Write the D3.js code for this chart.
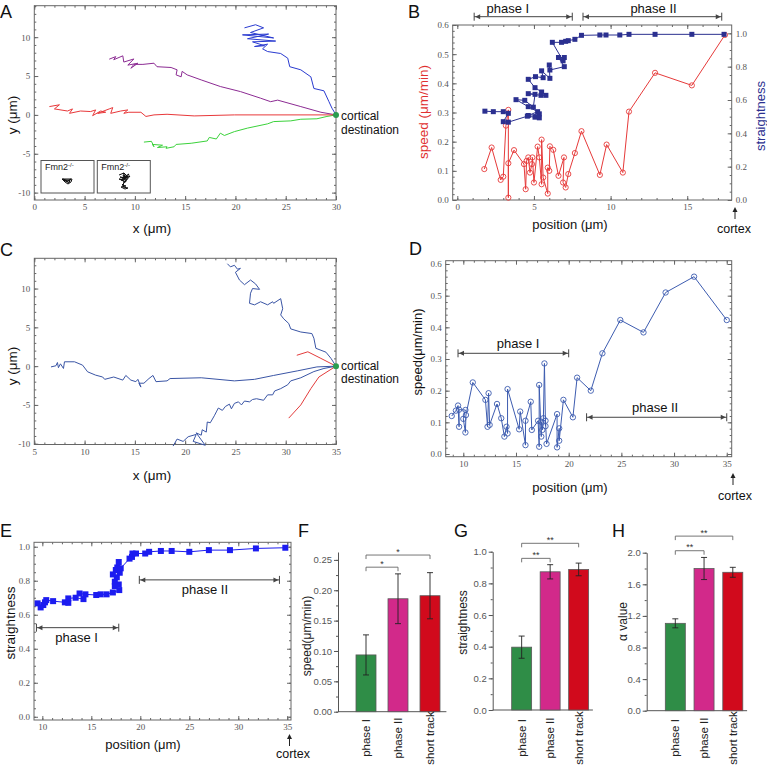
<!DOCTYPE html>
<html>
<head>
<meta charset="utf-8">
<title>Migration tracks</title>
<script src="https://d3js.org/d3.v7.min.js"></script>
<style>
  body { margin: 0; background: #fff; }
  svg { display: block; font-family: "Liberation Sans", Arial, sans-serif; }
  .frame { fill: none; stroke: #666; stroke-width: 1; }
  .ticks line { stroke: #666; }
  .ticks text { font-family: "Liberation Serif", "DejaVu Serif", serif; font-size: 9px; fill: #555; }
  .bar-axis line, .bar-axis path { stroke: #555; }
  .bar-axis text { font-size: 9.5px; fill: #555; }
  .track { fill: none; stroke-width: 1; }
</style>
</head>
<body>
<svg id="fig" width="767" height="776"></svg>
<script>
// ---------- data ----------
// panel A tracks (x, y in µm)
var trackA_red = [[1.5,1.07],[2.5,1.3],[2.0,0.77],[3.3,0.5],[3.8,0.77],[3.5,0.2],[4.6,0.5],[5.6,0.43],[6.1,0.64],[5.8,-0.1],[6.6,0.5],[7.1,0.34],[6.3,0.2],[7.45,0.77],[7.8,0.94],[7.6,0.2],[8.6,0.5],[9.3,0.64],[8.9,0.2],[9.4,0.34],[10.6,0.34],[11.1,-0.2],[11.9,0],[13.2,0.08],[15.9,-0.13],[19.9,0],[30,0]];
var trackA_purple = [[7.45,7.17],[8.1,7.5],[7.9,7.1],[8.8,7.6],[8.9,6.8],[9.9,7.2],[9.3,6.4],[10.3,6.65],[9.6,6.0],[9.9,6.5],[10.8,6.5],[11.9,6.65],[12.2,6.2],[13.6,6.1],[14.2,5.8],[14.1,5.15],[14.6,4.9],[14.7,5.6],[15.2,5.15],[16.6,4.5],[18.5,3.65],[20.5,3.0],[22.5,2.15],[23.5,1.7],[24.2,1.9],[26.5,1.07],[28.5,0.34],[30,0]];
var trackA_blue = [[20.9,11.2],[22.0,11.6],[22.8,11.2],[21.5,10.6],[23.8,9.9],[20.7,10.3],[23.3,10.4],[21.2,9.8],[24.0,9.5],[21.7,9.4],[22.9,8.9],[21.9,8.8],[23.2,9.1],[22.7,8.5],[23.2,8.15],[24.5,7.9],[25.2,7.3],[25.4,6.2],[26.5,5.8],[27.5,4.9],[27.8,3.4],[28.8,3.1],[29.3,1.7],[29.6,0.86],[30,0]];
var trackA_green = [[10.9,-3.5],[11.65,-3.4],[11.9,-4.1],[11.75,-3.8],[12.75,-3.9],[12.25,-4.2],[13.2,-4.1],[13.1,-4.3],[13.9,-4.1],[14.1,-3.8],[15.6,-3.65],[17.2,-3.35],[17.4,-2.9],[18.1,-3.1],[18.5,-2.35],[18.9,-2.65],[19.9,-2.15],[21.2,-1.7],[23.2,-1.15],[23.8,-0.86],[25.5,-0.77],[26.5,-0.56],[28.1,-0.5],[29.1,-0.2],[30,0]];
// inset tracks (Fmn2-/-), µm around start
var insetTrack1 = [[-5,2],[-2,-1],[1,-3],[4,-1],[5,2],[-5,2],[-1,0],[2,-2],[3,1],[-3,1],[0,-1],[4,2],[1,0],[-4,2]];
var insetTrack2 = [[-5,6],[0,8],[3,5],[-2,3],[5,7],[1,2],[-4,4],[4,3],[-1,6],[2,-1],[-3,1],[1,4],[6,5],[0,-2],[-2,-4],[2,-5],[-3,-6],[1,-8],[4,-7],[-1,-6],[0,0],[-5,2],[3,1],[-1,8],[2,6]];

// panel B: position (µm) vs speed and straightness
var speedB = [[1.76,0.106],[2.24,0.18],[2.83,0.069],[3.0,0.08],[3.17,0.255],[3.33,0.309],[3.33,0.008],[3.33,0.126],[3.7,0.171],[4.35,0.123],[4.46,0.037],[4.52,0.134],[4.63,0.146],[4.74,0.094],[4.87,0.123],[4.9,0.146],[5.0,0.06],[5.24,0.183],[5.35,0.146],[5.5,0.054],[5.5,0.207],[5.6,0.077],[5.9,0.022],[5.9,0.111],[6.0,0.1],[6.04,0.184],[6.26,0.172],[6.6,0.083],[6.96,0.146],[6.9,0.06],[7.07,0.043],[7.24,0.089],[7.67,0.161],[8.1,0.236],[9.3,0.086],[9.74,0.19],[10.8,0.094],[11.2,0.303],[12.9,0.436],[15.3,0.393],[17.46,0.566]];
var straightB = [[1.8,0.533],[2.35,0.53],[3.0,0.53],[3.33,0.52],[3.0,0.47],[3.33,0.467],[4.57,0.503],[5.35,0.493],[5.07,0.497],[5.35,0.517],[4.63,0.507],[5.24,0.53],[4.63,0.56],[3.83,0.602],[4.4,0.598],[4.96,0.557],[5.07,0.634],[4.63,0.638],[5.46,0.628],[5.78,0.628],[5.5,0.648],[5.07,0.674],[4.63,0.724],[5.1,0.74],[5.6,0.734],[5.5,0.775],[6.04,0.73],[6.0,0.81],[6.04,0.78],[6.98,0.8],[6.6,0.855],[6.98,0.855],[6.9,0.835],[6.2,0.946],[6.8,0.946],[7.07,0.952],[7.24,0.956],[7.67,0.964],[8.1,0.988],[9.3,0.99],[9.7,0.99],[10.6,0.99],[11.2,0.994],[12.9,0.994],[15.3,0.994],[17.4,0.994]];
var phasesB = [["phase I",1.1,7.5,3.3],["phase II",8.2,17.25,12.8]];

// panel C tracks
var trackC_top = [[24.2,13.2],[24.5,12.8],[24.9,13.0],[25.2,12.5],[25.5,12.6],[25.0,12.1],[25.4,11.1],[25.9,10.5],[26.5,11.1],[27.0,10.6],[27.4,9.9],[26.7,10.0],[26.5,9.4],[26.4,8.1],[26.9,7.9],[27.5,8.3],[28.2,7.9],[28.7,8.3],[28.8,8.1],[29.5,8.7],[29.7,7.4],[29.5,6.6],[29.8,6.1],[30.3,5.5],[30.5,4.8],[31.5,4.4],[32.6,4.2],[32.8,3.6],[33.0,2.3],[34.0,1.8],[34.5,1.0],[35,0]];
var trackC_mid = [[6.66,-0.1],[7.15,0.05],[7.3,0.47],[7.4,-0.2],[7.6,0.3],[7.9,-0.3],[8.0,0.56],[9.0,0.56],[9.8,0.13],[10.3,-0.73],[11.1,-1.16],[11.8,-1.4],[12.0,-1.7],[12.9,-1.4],[13.8,-1.8],[14.1,-1.2],[14.6,-1.8],[15.1,-2.0],[15.3,-1.7],[15.6,-2.7],[15.4,-2.2],[15.9,-2.2],[16.4,-1.6],[16.8,-1.2],[17.1,-2.0],[18.2,-1.9],[18.5,-1.6],[21.6,-1.5],[24.9,-1.9],[26.9,-1.7],[28.8,-1.2],[31.2,-0.6],[33.1,-0.1],[35,0]];
var trackC_low = [[18.8,-10.3],[19.2,-9.4],[19.8,-9.7],[20.3,-9.1],[21.1,-8.8],[20.8,-9.7],[22.0,-10.2],[21.6,-9.5],[21.1,-8.6],[21.6,-8.9],[21.7,-8.2],[22.1,-8.5],[22.2,-7.2],[22.5,-7.3],[22.9,-6.4],[23.1,-5.9],[23.3,-5.4],[23.7,-5.7],[24.0,-5.2],[24.4,-4.9],[24.6,-5.5],[24.9,-4.8],[25.3,-4.6],[25.6,-5.0],[25.9,-4.5],[26.4,-4.6],[26.7,-4.3],[27.1,-4.2],[27.8,-4.4],[28.2,-3.7],[28.7,-3.7],[28.9,-3.2],[29.5,-2.9],[30.2,-2.4],[30.5,-1.9],[31.5,-1.5],[32.8,-0.7],[33.8,-0.3],[35,0]];
var trackC_red1 = [[31.1,1.4],[32.2,1.85],[33.5,1.0],[35,0]];
var trackC_red2 = [[30.3,-6.7],[31.5,-5.0],[32.5,-2.9],[33.3,-1.4],[35,0]];

// panel D: speed vs position
var speedD = [[8.9,0.12],[9.3,0.137],[9.5,0.153],[9.6,0.086],[9.6,0.14],[10.2,0.139],[10.0,0.111],[10.2,0.068],[10.25,0.123],[10.9,0.226],[12.1,0.171],[12.3,0.086],[12.4,0.192],[12.5,0.092],[13.2,0.158],[13.6,0.113],[13.9,0.055],[14.1,0.086],[14.2,0.065],[14.2,0.205],[15.3,0.078],[15.4,0.134],[15.9,0.028],[15.9,0.105],[16.4,0.165],[16.5,0.076],[17.1,0.105],[17.2,0.023],[17.2,0.218],[17.4,0.055],[17.4,0.102],[17.5,0.076],[17.6,0.113],[17.7,0.286],[17.8,0.088],[17.8,0.105],[17.9,0.032],[18.9,0.126],[18.9,0.021],[19.1,0.081],[19.1,0.042],[19.5,0.171],[20.4,0.116],[20.8,0.241],[22.1,0.2],[23.2,0.318],[24.9,0.423],[27.1,0.384],[29.2,0.51],[31.9,0.56],[35,0.423]];
var phasesD = [["phase I",9.5,20,15.2,0.318],["phase II",21.7,35,28.2,0.116]];

// panel E: straightness vs position
var straightE = [[9.52,0.667],[9.83,0.643],[10.1,0.657],[10.27,0.673],[10.4,0.686],[11.1,0.68],[12.3,0.673],[12.65,0.67],[12.65,0.696],[13.4,0.7],[14.2,0.692],[13.8,0.725],[14.4,0.72],[15.5,0.716],[15.95,0.72],[16.56,0.72],[17.2,0.731],[17.85,0.745],[17.4,0.769],[17.8,0.778],[17.4,0.794],[17.6,0.82],[17.2,0.837],[17.5,0.863],[17.9,0.847],[17.65,0.878],[17.8,0.91],[18.0,0.873],[18.9,0.93],[19.15,0.94],[19.2,0.96],[19.56,0.96],[20.5,0.96],[20.9,0.97],[22.1,0.975],[23.2,0.975],[25.0,0.97],[27.0,0.98],[29.15,0.98],[31.8,0.99],[34.8,0.994]];
var phasesE = [["phase I",9.4,17.8,13.5,0.524],["phase II",19.9,34.2,26.6,0.805]];

// panels F-H: bar charts
var groups = ["phase I", "phase II", "short track"];
var groupColors = ["#2f8d47", "#d2298a", "#d10a1c"];
var speedMean = [0.0935, 0.186, 0.191];
var speedErr = [0.033, 0.041, 0.038];
var straightMean = [0.397, 0.873, 0.888];
var straightErr = [0.07, 0.045, 0.04];
var alphaMean = [1.106, 1.80, 1.752];
var alphaErr = [0.057, 0.14, 0.063];
var sigF = [["phase I","phase II",0.238,"*"],["phase I","short track",0.258,"*"]];
var sigG = [["phase I","phase II",0.958,"**"],["phase I","short track",1.053,"**"]];
var sigH = [["phase I","phase II",2.025,"**"],["phase I","short track",2.21,"**"]];

// ---------- helpers ----------
var svg = d3.select("#fig");
var num = function(d) { return String(d); };
var dec1 = d3.format(".1f");

function frameTicks(g, x, y, o) {
  var x0 = x.range()[0], x1 = x.range()[1], yb = y.range()[0], yt = y.range()[1];
  var yr = o.yRight || y;
  var sides = [
    [d3.axisBottom(x), "translate(0," + yb + ")", o.xMajor, o.xMinor, o.xFmt],
    [d3.axisTop(x), "translate(0," + yt + ")", o.xMajor, o.xMinor, null],
    [d3.axisLeft(y), "translate(" + x0 + ",0)", o.yMajor, o.yMinor, o.yFmt],
    [d3.axisRight(yr), "translate(" + x1 + ",0)", o.rMajor || o.yMajor, o.rMinor || o.yMinor, o.rFmt || null]
  ];
  sides.forEach(function(s) {
    g.append("g").attr("class", "ticks").attr("transform", s[1])
      .call(s[0].tickValues(s[3]).tickSizeInner(-2).tickSizeOuter(0).tickFormat(""));
    g.append("g").attr("class", "ticks").attr("transform", s[1])
      .call(s[0].tickValues(s[2]).tickSizeInner(-4).tickSizeOuter(0).tickPadding(4).tickFormat(s[4] || ""));
  });
  g.selectAll(".domain").remove();
  g.append("rect").attr("class", "frame")
    .attr("x", x0).attr("y", yt).attr("width", x1 - x0).attr("height", yb - yt);
}

function text(g, s, x, y, size, anchor, fill) {
  return g.append("text").attr("x", x).attr("y", y)
    .attr("font-size", size).attr("text-anchor", anchor || "start")
    .attr("fill", fill || "#111").text(s);
}

function vtext(g, s, cx, cy, size, fill) {
  return g.append("text").attr("transform", "translate(" + cx + "," + cy + ") rotate(-90)")
    .attr("dy", "0.35em").attr("font-size", size).attr("text-anchor", "middle")
    .attr("fill", fill || "#111").text(s);
}

function span(g, xa, xb, y) {
  var s = g.append("g").attr("stroke", "#444").attr("fill", "#444");
  s.append("line").attr("x1", xa).attr("x2", xb).attr("y1", y).attr("y2", y);
  [xa, xb].forEach(function(xe, i) {
    var dir = i ? -1 : 1;
    s.append("line").attr("x1", xe).attr("x2", xe).attr("y1", y - 4).attr("y2", y + 4);
    s.append("path").attr("stroke", "none")
      .attr("d", "M" + (xe + dir) + "," + y + "L" + (xe + dir * 6) + "," + (y - 2.5) + "L" + (xe + dir * 6) + "," + (y + 2.5) + "Z");
  });
}

function upArrow(g, x, yTop, yBot) {
  g.append("line").attr("x1", x).attr("x2", x).attr("y1", yTop + 2).attr("y2", yBot).attr("stroke", "#222");
  g.append("path").attr("fill", "#222")
    .attr("d", "M" + x + "," + yTop + "L" + (x - 2.5) + "," + (yTop + 5) + "L" + (x + 2.5) + "," + (yTop + 5) + "Z");
}

function squares(g, data, x, y, size, color) {
  g.selectAll(null).data(data).enter().append("rect")
    .attr("x", function(d) { return x(d[0]) - size / 2; })
    .attr("y", function(d) { return y(d[1]) - size / 2; })
    .attr("width", size).attr("height", size).attr("fill", color);
}

function circles(g, data, x, y, r, color) {
  g.selectAll(null).data(data).enter().append("circle")
    .attr("cx", function(d) { return x(d[0]); })
    .attr("cy", function(d) { return y(d[1]); })
    .attr("r", r).attr("fill", "none").attr("stroke", color).attr("stroke-width", 0.9);
}

function path(g, data, x, y, color, w) {
  g.append("path").attr("class", "track").attr("stroke", color).attr("stroke-width", w || 1)
    .attr("d", d3.line().x(function(d) { return x(d[0]); }).y(function(d) { return y(d[1]); })(data));
}

// ---------- panel A ----------
var gA = svg.append("g");
var xA = d3.scaleLinear().domain([0, 30]).range([34.3, 336]);
var yA = d3.scaleLinear().domain([-10.95, 14.05]).range([200, 5.7]);
frameTicks(gA, xA, yA, { xMajor: d3.range(0, 31, 5), xMinor: d3.range(0, 31, 1), xFmt: num,
  yMajor: [-10, -5, 0, 5, 10], yMinor: d3.range(-10, 15, 1), yFmt: num });
path(gA, trackA_green, xA, yA, "#3bd23b");
path(gA, trackA_purple, xA, yA, "#8c2b93");
path(gA, trackA_blue, xA, yA, "#2a3bd0");
path(gA, trackA_red, xA, yA, "#e8383a");
gA.append("circle").attr("cx", xA(30)).attr("cy", yA(0)).attr("r", 3).attr("fill", "#2a9d50");
// insets
[[insetTrack1, 41, 67, 181, 6, 4, 1.2], [insetTrack2, 97.3, 124, 181, 7, 9, 1.6]].forEach(function(s) {
  var box = gA.append("g");
  box.append("rect").attr("x", s[1]).attr("y", 160.5).attr("width", 53).attr("height", 32.5)
    .attr("fill", "#fff").attr("stroke", "#555");
  var t = text(box, "Fmn2", s[1] + 4, 170, 9, "start", "#222");
  t.append("tspan").attr("font-size", 6).attr("dy", -3.5).text("-/-");
  var ix = d3.scaleLinear().domain([-s[4], s[4]]).range([s[2] - s[4], s[2] + s[4]]);
  var iy = d3.scaleLinear().domain([-s[5], s[5]]).range([s[3] + s[5], s[3] - s[5]]);
  path(box, s[0], ix, iy, "#111", s[6]);
});
text(svg, "A", 0, 17.5, 18);
vtext(svg, "y (\u03bcm)", 12, 115, 13.5);
text(svg, "x (\u03bcm)", 152, 233, 13.5, "middle");
text(svg, "cortical", 341, 120, 12);
text(svg, "destination", 341, 133.5, 12);

// ---------- panel B ----------
var gB = svg.append("g");
var xB = d3.scaleLinear().domain([-0.3, 17.9]).range([452.7, 731.7]);
var yBs = d3.scaleLinear().domain([0, 0.6]).range([200, 25]);
var yBr = d3.scaleLinear().domain([0, 1.05]).range([200, 25]);
frameTicks(gB, xB, yBs, { xMajor: [0, 5, 10, 15], xMinor: d3.range(0, 18, 1), xFmt: num,
  yMajor: d3.range(0, 0.61, 0.1), yMinor: d3.range(0, 0.61, 0.02), yFmt: dec1,
  yRight: yBr, rMajor: d3.range(0, 1.01, 0.2), rMinor: d3.range(0, 1.01, 0.05), rFmt: dec1 });
path(gB, speedB, xB, yBs, "#e63a3a");
circles(gB, speedB, xB, yBs, 2.6, "#e63a3a");
path(gB, straightB, xB, yBr, "#2b3090");
squares(gB, straightB, xB, yBr, 5, "#2b3090");
phasesB.forEach(function(p) {
  span(gB, xB(p[1]), xB(p[2]), 16.7);
  text(gB, p[0], xB(p[3]), 12.5, 13, "middle");
});
text(svg, "B", 408, 17.5, 18);
vtext(svg, "speed (\u03bcm/min)", 423, 112, 13.5, "#e03030");
vtext(svg, "straightness", 760, 116, 13, "#2b3090");
text(svg, "position (\u03bcm)", 570, 229, 13, "middle");
text(svg, "cortex", 734, 233, 12.5, "middle");
upArrow(svg, 735, 207, 219);

// ---------- panel C ----------
var gC = svg.append("g");
var xC = d3.scaleLinear().domain([5, 35]).range([34.3, 336]);
var yC = d3.scaleLinear().domain([-10.1, 13.9]).range([444.5, 258.3]);
frameTicks(gC, xC, yC, { xMajor: d3.range(5, 36, 5), xMinor: d3.range(5, 36, 1), xFmt: num,
  yMajor: [-10, -5, 0, 5, 10], yMinor: d3.range(-10, 14, 1), yFmt: num });
[trackC_top, trackC_mid, trackC_low].forEach(function(t) { path(gC, t, xC, yC, "#3a55a5"); });
path(gC, trackC_red1, xC, yC, "#e33b3b");
path(gC, trackC_red2, xC, yC, "#e33b3b");
gC.append("circle").attr("cx", xC(35)).attr("cy", yC(0)).attr("r", 3).attr("fill", "#2a9d50");
text(svg, "C", 0, 256, 18);
vtext(svg, "y (\u03bcm)", 12, 366, 13.5);
text(svg, "x (\u03bcm)", 152, 480, 13.5, "middle");
text(svg, "cortical", 341, 369.5, 12);
text(svg, "destination", 341, 383, 12);

// ---------- panel D ----------
var gD = svg.append("g");
var xD = d3.scaleLinear().domain([8.33, 35.47]).range([445.7, 731.7]);
var yD = d3.scaleLinear().domain([-0.0085, 0.6104]).range([456.7, 260.7]);
frameTicks(gD, xD, yD, { xMajor: d3.range(10, 36, 5), xMinor: d3.range(9, 36, 1), xFmt: num,
  yMajor: d3.range(0, 0.61, 0.1), yMinor: d3.range(0, 0.61, 0.02), yFmt: dec1 });
path(gD, speedD, xD, yD, "#3d5cb0");
circles(gD, speedD, xD, yD, 2.7, "#3d5cb0");
phasesD.forEach(function(p) {
  span(gD, xD(p[1]), xD(p[2]), yD(p[4]));
  text(gD, p[0], xD(p[3]), yD(p[4]) - 5, 13, "middle");
});
text(svg, "D", 409, 255, 18);
vtext(svg, "speed(\u03bcm/min)", 417, 352, 13);
text(svg, "position (\u03bcm)", 570, 492, 13, "middle");
text(svg, "cortex", 735, 500, 12.5, "middle");
upArrow(svg, 733, 473, 485);

// ---------- panel E ----------
var gE = svg.append("g");
var xE = d3.scaleLinear().domain([9.15, 35.38]).range([34, 291]);
var yE = d3.scaleLinear().domain([-0.019, 1.026]).range([720, 542.3]);
frameTicks(gE, xE, yE, { xMajor: d3.range(10, 36, 5), xMinor: d3.range(10, 36, 1), xFmt: num,
  yMajor: d3.range(0, 1.01, 0.2), yMinor: d3.range(0, 1.01, 0.05), yFmt: dec1 });
path(gE, straightE, xE, yE, "#1c1cf0");
squares(gE, straightE, xE, yE, 6, "#1c1cf0");
phasesE.forEach(function(p) {
  span(gE, xE(p[1]), xE(p[2]), yE(p[4]));
  text(gE, p[0], xE(p[3]), yE(p[4]) + 14, 13, "middle");
});
text(svg, "E", 0, 537, 18);
vtext(svg, "straightness", 10, 623, 13.5);
text(svg, "position (\u03bcm)", 143, 749, 13, "middle");
text(svg, "cortex", 293, 758, 12.5, "middle");
upArrow(svg, 289.5, 734, 746);

// ---------- panels F-H ----------
function barPanel(o) {
  var g = svg.append("g");
  var x = d3.scaleBand().domain(groups).range(o.xr).paddingInner(o.pi).paddingOuter(o.po);
  var y = d3.scaleLinear().domain(o.yd).range(o.yr);
  var ax = g.append("g").attr("class", "bar-axis").attr("transform", "translate(" + o.ax + ",0)");
  ax.call(d3.axisLeft(y).tickValues(o.minor).tickSizeInner(2).tickSizeOuter(0).tickFormat(""));
  ax.append("g").call(d3.axisLeft(y).tickValues(o.major).tickSizeInner(4).tickSizeOuter(0).tickPadding(2).tickFormat(o.fmt))
    .select(".domain").remove();
  g.append("line").attr("x1", o.ax).attr("x2", o.xr[1]).attr("y1", y(0)).attr("y2", y(0)).attr("stroke", "#555");
  g.selectAll(null).data(groups).enter().append("rect")
    .attr("x", function(d) { return x(d); })
    .attr("y", function(d, i) { return y(o.mean[i]); })
    .attr("width", x.bandwidth())
    .attr("height", function(d, i) { return y(0) - y(o.mean[i]); })
    .attr("fill", function(d, i) { return groupColors[i]; })
    .attr("stroke", "#5a5a5a").attr("stroke-width", 0.8);
  var cx = function(d) { return x(d) + x.bandwidth() / 2; };
  var eb = g.append("g").attr("stroke", "#222").attr("stroke-width", 0.9);
  groups.forEach(function(d, i) {
    var lo = y(o.mean[i] - o.err[i]), hi = y(o.mean[i] + o.err[i]);
    eb.append("line").attr("x1", cx(d)).attr("x2", cx(d)).attr("y1", lo).attr("y2", hi);
    eb.append("line").attr("x1", cx(d) - 3).attr("x2", cx(d) + 3).attr("y1", lo).attr("y2", lo);
    eb.append("line").attr("x1", cx(d) - 3).attr("x2", cx(d) + 3).attr("y1", hi).attr("y2", hi);
  });
  o.sig.forEach(function(s) {
    var xa = cx(s[0]), xb = cx(s[1]), yy = y(s[2]);
    g.append("path").attr("fill", "none").attr("stroke", "#666").attr("stroke-width", 0.9)
      .attr("d", "M" + xa + "," + (yy + 4) + "V" + yy + "H" + xb + "V" + (yy + 4));
    text(g, s[3], (xa + xb) / 2, yy - 0.5, 9, "middle", "#333");
  });
  groups.forEach(function(d) { vtext(g, d, cx(d), 738, 11.5, "#222"); });
  vtext(g, o.title, o.tx, o.ty, 12, "#222");
  text(g, o.letter, o.lx, 537, 18);
}

barPanel({ xr: [349.6, 446.4], pi: 0.375, po: 0.2, yd: [0, 0.263], yr: [711.7, 552], ax: 338,
  major: d3.range(0, 0.26, 0.05), minor: d3.range(0, 0.26, 0.025), fmt: d3.format(".2f"),
  mean: speedMean, err: speedErr, sig: sigF, title: "speed(\u03bcm/min)", tx: 307, ty: 636, letter: "F", lx: 298 });
barPanel({ xr: [507.4, 592.9], pi: 0.3, po: 0.15, yd: [0, 1], yr: [710, 551.7], ax: 492.7,
  major: d3.range(0, 1.01, 0.2), minor: d3.range(0, 1.01, 0.1), fmt: dec1,
  mean: straightMean, err: straightErr, sig: sigG, title: "straightness", tx: 462.7, ty: 622.5, letter: "G", lx: 454 });
barPanel({ xr: [661, 747.1], pi: 0.304, po: 0.15, yd: [0, 2], yr: [710.7, 552.7], ax: 646.7,
  major: d3.range(0, 2.01, 0.4), minor: d3.range(0, 2.01, 0.2), fmt: dec1,
  mean: alphaMean, err: alphaErr, sig: sigH, title: "\u03b1 value", tx: 623, ty: 621.5, letter: "H", lx: 612 });
</script>
</body>
</html>
